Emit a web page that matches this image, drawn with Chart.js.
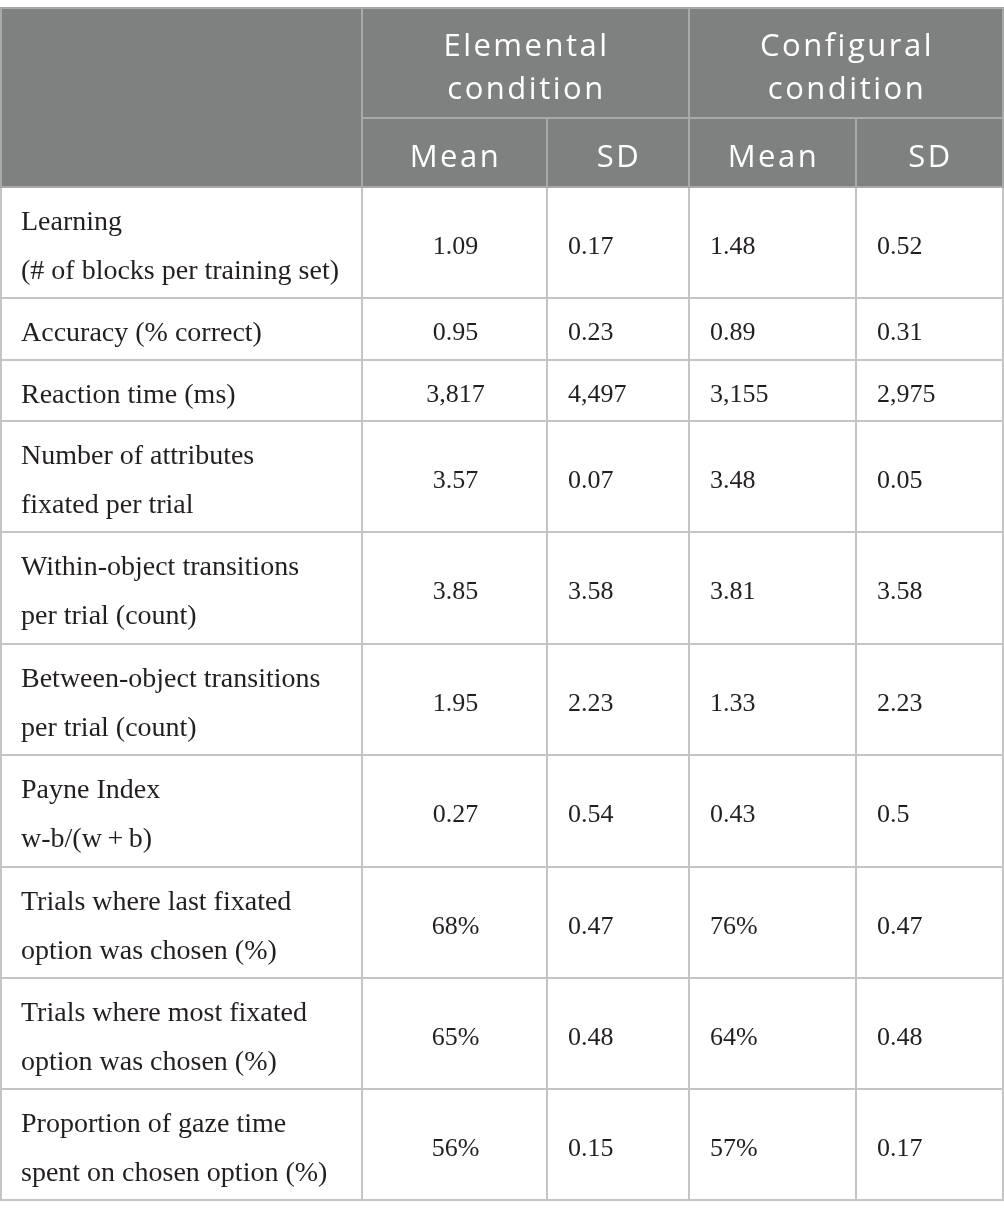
<!DOCTYPE html>
<html>
<head>
<meta charset="utf-8">
<script src="https://cdn.jsdelivr.net/npm/chart.js@4.4.1/dist/chart.umd.min.js"></script>
<style>
html,body{margin:0;padding:0;background:#ffffff;}
#wrap{width:1004px;height:1216px;}
</style>
</head>
<body>
<div id="wrap"><canvas id="c" width="1004" height="1216"></canvas></div>
<script>
// ---- table content ----
const groupLabels = ['Elemental\ncondition', 'Configural\ncondition'];
const columnLabels = ['Mean', 'SD', 'Mean', 'SD'];
const rowLabels = [
  'Learning\n(# of blocks per training set)',
  'Accuracy (% correct)',
  'Reaction time (ms)',
  'Number of attributes\nfixated per trial',
  'Within-object transitions\nper trial (count)',
  'Between-object transitions\nper trial (count)',
  'Payne Index\nw-b/(w\u2009+\u2009b)',
  'Trials where last fixated\noption was chosen (%)',
  'Trials where most fixated\noption was chosen (%)',
  'Proportion of gaze time\nspent on chosen option (%)'
];
const elementalMean  = ['1.09', '0.95', '3,817', '3.57', '3.85', '1.95', '0.27', '68%', '65%', '56%'];
const elementalSD    = ['0.17', '0.23', '4,497', '0.07', '3.58', '2.23', '0.54', '0.47', '0.48', '0.15'];
const configuralMean = ['1.48', '0.89', '3,155', '3.48', '3.81', '1.33', '0.43', '76%', '64%', '57%'];
const configuralSD   = ['0.52', '0.31', '2,975', '0.05', '3.58', '2.23', '0.5', '0.47', '0.48', '0.17'];

// ---- layout (in scale units) ----
const colEdges = [0, 362, 547, 689, 856, 1003];
const headEdges = [8, 118, 187];
const rowEdges = [187, 298, 360, 421, 532, 644, 755, 867, 978, 1089, 1200];
const valueAlign = ['center', 'left', 'left', 'left'];

const tablePlugin = {
  id: 'tablePlugin',
  afterDraw(chart) {
    const ctx = chart.ctx;
    const xs = chart.scales.x, ys = chart.scales.y;
    const X = v => xs.getPixelForValue(v);
    const Y = v => ys.getPixelForValue(v);
    const series = [elementalMean, elementalSD, configuralMean, configuralSD];

    ctx.save();
    // header background
    ctx.fillStyle = '#7f8080';
    ctx.fillRect(X(colEdges[0]), Y(headEdges[0]), X(colEdges[5]) - X(colEdges[0]), Y(headEdges[2]) - Y(headEdges[0]));

    // body lines
    ctx.lineWidth = 2;
    ctx.strokeStyle = '#c4c4c4';
    ctx.beginPath();
    rowEdges.forEach(r => { ctx.moveTo(X(colEdges[0]), Y(r)); ctx.lineTo(X(colEdges[5]) + 1, Y(r)); });
    [colEdges[0] + 1, colEdges[1], colEdges[2], colEdges[3], colEdges[4], colEdges[5]].forEach(c => {
      ctx.moveTo(X(c), Y(rowEdges[0])); ctx.lineTo(X(c), Y(rowEdges[rowEdges.length - 1]) + 1);
    });
    ctx.stroke();

    // header lines
    ctx.strokeStyle = '#a8a9a9';
    ctx.beginPath();
    ctx.moveTo(X(colEdges[0]), Y(headEdges[0])); ctx.lineTo(X(colEdges[5]) + 1, Y(headEdges[0]));
    ctx.moveTo(X(colEdges[1]), Y(headEdges[1])); ctx.lineTo(X(colEdges[5]) + 1, Y(headEdges[1]));
    ctx.moveTo(X(colEdges[0]), Y(headEdges[2])); ctx.lineTo(X(colEdges[5]) + 1, Y(headEdges[2]));
    [colEdges[0] + 1, colEdges[1], colEdges[3], colEdges[5]].forEach(c => {
      ctx.moveTo(X(c), Y(headEdges[0])); ctx.lineTo(X(c), Y(headEdges[2]));
    });
    [colEdges[2], colEdges[4]].forEach(c => {
      ctx.moveTo(X(c), Y(headEdges[1])); ctx.lineTo(X(c), Y(headEdges[2]));
    });
    ctx.stroke();

    // header text
    ctx.fillStyle = '#ffffff';
    ctx.font = '500 31px "Open Sans"';
    ctx.letterSpacing = '2.5px';
    ctx.textAlign = 'center';
    ctx.textBaseline = 'alphabetic';
    groupLabels.forEach((g, i) => {
      const cx = (X(colEdges[1 + 2 * i]) + X(colEdges[3 + 2 * i])) / 2 + 1;
      const cy = (Y(headEdges[0]) + Y(headEdges[1])) / 2;
      g.split('\n').forEach((line, k) => ctx.fillText(line, cx, cy - 7 + k * 43));
    });
    columnLabels.forEach((c, i) => {
      const cx = (X(colEdges[1 + i]) + X(colEdges[2 + i])) / 2 + 1;
      const cy = (Y(headEdges[1]) + Y(headEdges[2])) / 2;
      ctx.fillText(c, cx, cy + 14.5);
    });
    ctx.letterSpacing = '0px';

    // row labels
    ctx.fillStyle = '#231f20';
    ctx.font = '28px "Liberation Serif"';
    ctx.textAlign = 'left';
    rowLabels.forEach((lab, r) => {
      const cy = (Y(rowEdges[r]) + Y(rowEdges[r + 1])) / 2;
      const lines = lab.split('\n');
      const first = cy + 12 - (lines.length - 1) * 25;
      lines.forEach((line, k) => ctx.fillText(line, X(colEdges[0]) + 21, first + k * 49));
    });

    // values
    ctx.font = '26px "Liberation Serif"';
    series.forEach((vals, c) => {
      vals.forEach((v, r) => {
        const cy = (Y(rowEdges[r]) + Y(rowEdges[r + 1])) / 2 + 11;
        if (valueAlign[c] === 'center') {
          ctx.textAlign = 'center';
          ctx.fillText(v, (X(colEdges[1 + c]) + X(colEdges[2 + c])) / 2 + 1, cy);
        } else {
          ctx.textAlign = 'left';
          ctx.fillText(v, X(colEdges[1 + c]) + 21, cy);
        }
      });
    });
    ctx.restore();
  }
};

new Chart(document.getElementById('c'), {
  type: 'scatter',
  data: { datasets: [] },
  options: {
    responsive: false,
    devicePixelRatio: 1,
    animation: false,
    layout: { padding: 0 },
    plugins: { legend: { display: false }, tooltip: { enabled: false } },
    scales: {
      x: { type: 'linear', min: 0, max: 1004, display: false },
      y: { type: 'linear', min: 0, max: 1216, reverse: true, display: false }
    }
  },
  plugins: [tablePlugin]
});
</script>
</body>
</html>
